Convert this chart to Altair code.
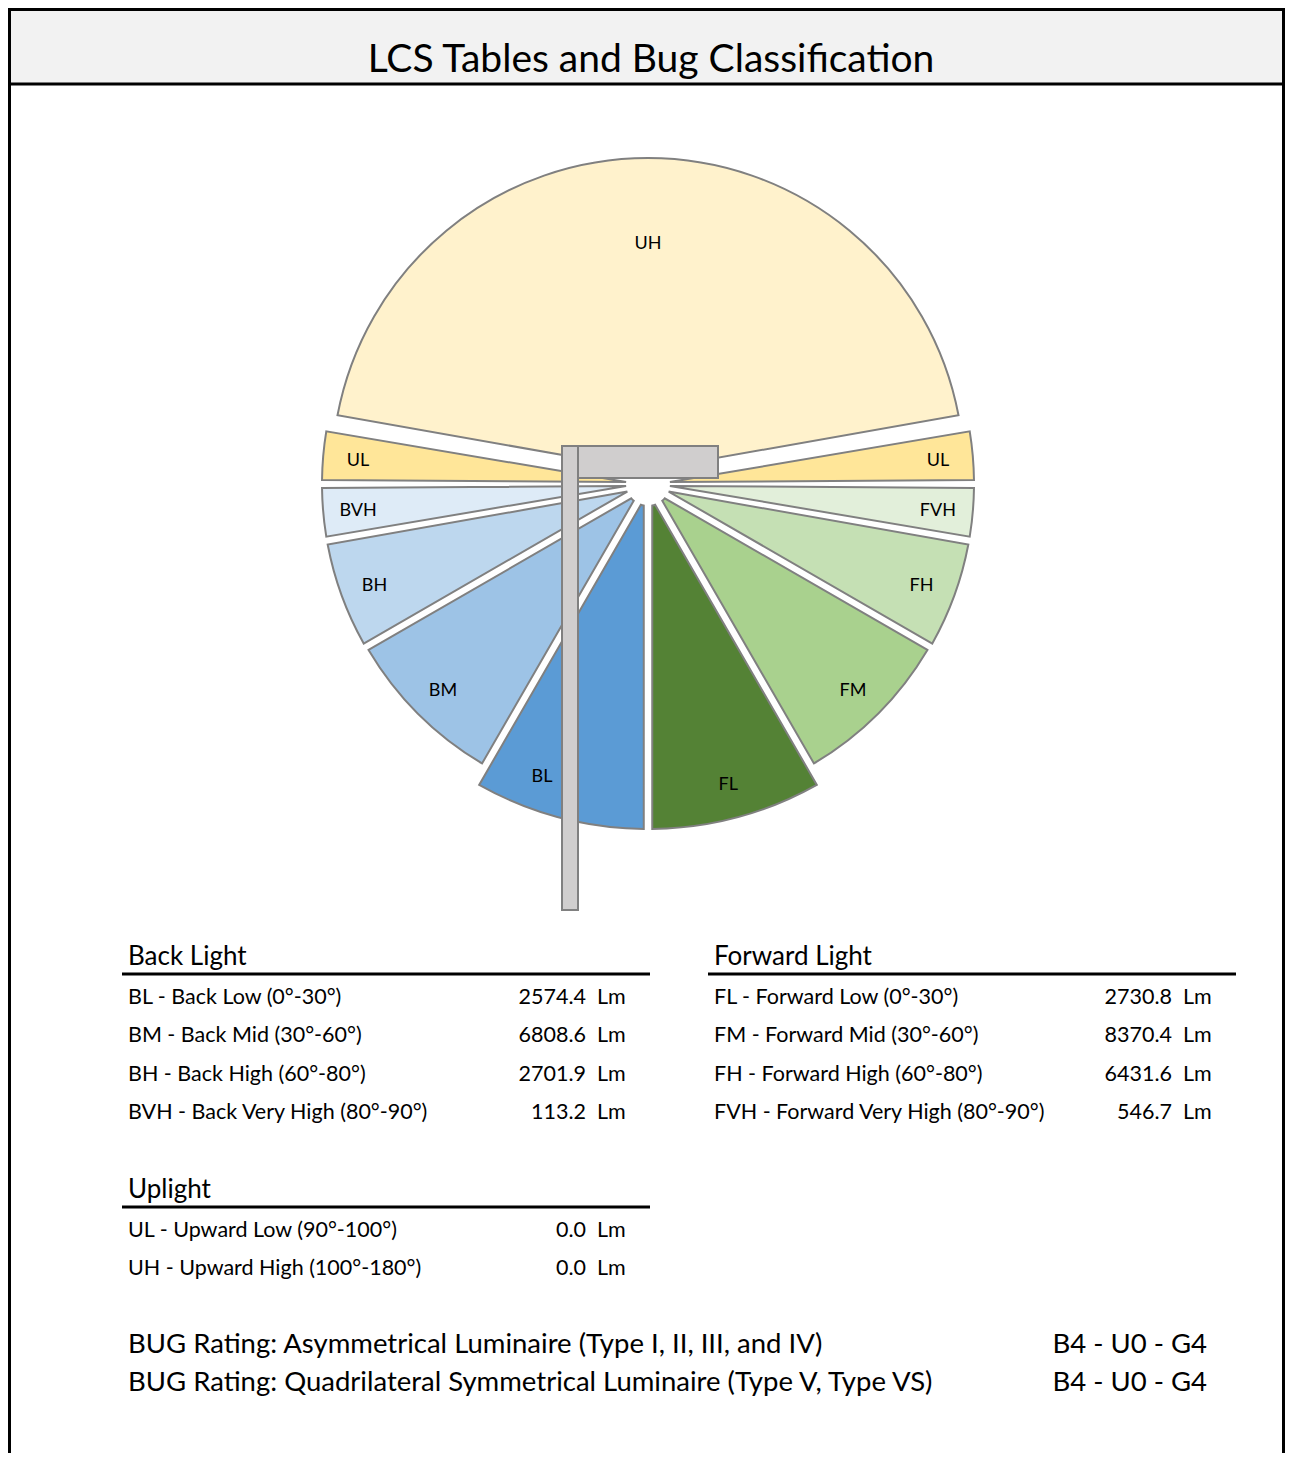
import math
import altair as alt
import pandas as pd

# ---------------- data ----------------
TITLE = "LCS Tables and Bug Classification"

BACK_CODES = ["BL", "BM", "BH", "BVH"]
BACK_NAMES = ["Back Low", "Back Mid", "Back High", "Back Very High"]
BACK_FROM = [0, 30, 60, 80]
BACK_TO = [30, 60, 80, 90]
BACK_LUMENS = [2574.4, 6808.6, 2701.9, 113.2]

FWD_CODES = ["FL", "FM", "FH", "FVH"]
FWD_NAMES = ["Forward Low", "Forward Mid", "Forward High", "Forward Very High"]
FWD_FROM = [0, 30, 60, 80]
FWD_TO = [30, 60, 80, 90]
FWD_LUMENS = [2730.8, 8370.4, 6431.6, 546.7]

UP_CODES = ["UL", "UH"]
UP_NAMES = ["Upward Low", "Upward High"]
UP_FROM = [90, 100]
UP_TO = [100, 180]
UP_LUMENS = [0.0, 0.0]

TABLE_TITLES = ["Back Light", "Forward Light", "Uplight"]
UNIT = "Lm"

BUG_LABELS = [
    "BUG Rating: Asymmetrical Luminaire (Type I, II, III, and IV)",
    "BUG Rating: Quadrilateral Symmetrical Luminaire (Type V, Type VS)",
]
BUG_RATINGS = ["B4 - U0 - G4", "B4 - U0 - G4"]

# ---------------- style / layout ----------------
COLORS = {
    "BL": "#5b9bd5", "BM": "#9dc3e6", "BH": "#bdd7ee", "BVH": "#deebf7",
    "FL": "#548235", "FM": "#a9d18e", "FH": "#c5e0b4", "FVH": "#e2efda",
    "UL": "#ffe699", "UH": "#fff2cc",
}
FONT = "Lato"
EDGE = "#808080"
POLE_FILL = "#d0cece"
TEXT_DY = 2

W, H = 1277, 1445          # drawing size (page offset 8px)
OX, OY = 8, 8
CX, CY = 648, 484          # diagram centre (page px)
GAP = 8
INNER_R = 22
OUTER_R = {"BL": 345, "FL": 345, "BM": 325, "FM": 325, "BH": 326, "FH": 326,
           "BVH": 326, "FVH": 326, "UL": 326, "UH": 316}
EXPLODE = {"UH": 10}
LABEL_INSET = 35
LABEL_R = {"UH": 232}
LABEL_SHIFT = {"BL": 5}     # degrees, keeps the label clear of the pole

XS = alt.Scale(domain=[OX, OX + W], zero=False, nice=False)
YS = alt.Scale(domain=[OY, OY + H], zero=False, nice=False, reverse=True)


def X(f):
    return alt.X(f, type="quantitative", scale=XS, axis=None)


def Y(f):
    return alt.Y(f, type="quantitative", scale=YS, axis=None)


# ---------------- wedges ----------------
wedge_rows = []


def add_wedge(code, t0, t1, label_angle):
    m = (t0 + t1) / 2.0
    e = EXPLODE.get(code, 0)
    cx = CX + e * math.sin(math.radians(m))
    cy = CY - e * math.cos(math.radians(m))
    r = OUTER_R[code]
    lr = LABEL_R.get(code, r - LABEL_INSET)
    wedge_rows.append(dict(
        code=code, cx=cx, cy=cy, r=r,
        t0=math.radians(t0), t1=math.radians(t1),
        lx=cx + lr * math.sin(math.radians(label_angle)),
        ly=cy - lr * math.cos(math.radians(label_angle)),
    ))


for c, a, b in zip(BACK_CODES, BACK_FROM, BACK_TO):
    add_wedge(c, 180 + a, 180 + b, 180 + (a + b) / 2 + LABEL_SHIFT.get(c, 0))
for c, a, b in zip(FWD_CODES, FWD_FROM, FWD_TO):
    add_wedge(c, 180 - b, 180 - a, 180 - (a + b) / 2 - LABEL_SHIFT.get(c, 0))
for c, a, b in zip(UP_CODES, UP_FROM, UP_TO):
    if b >= 180:
        add_wedge(c, 180 + a, 540 - a, 360)
    else:
        add_wedge(c, 180 + a, 180 + b, 180 + (a + b) / 2)
        add_wedge(c, 180 - b, 180 - a, 180 - (a + b) / 2)

wedges = pd.DataFrame(wedge_rows)
codes_order = list(COLORS.keys())

wedge_layer = alt.Chart(wedges).mark_arc(
    padAngle=GAP / 326.0, innerRadius=INNER_R, stroke=EDGE, strokeWidth=2
).encode(
    x=X("cx"), y=Y("cy"),
    theta=alt.Theta("t0:Q", scale=None, stack=None),
    theta2=alt.Theta2("t1:Q"),
    radius=alt.Radius("r:Q", scale=None),
    color=alt.Color("code:N", scale=alt.Scale(domain=codes_order,
                    range=[COLORS[k] for k in codes_order]), legend=None),
)

wedge_labels = alt.Chart(wedges).mark_text(
    font=FONT, fontSize=18, color="black", align="center", baseline="middle",
    dy=TEXT_DY
).encode(x=X("lx"), y=Y("ly"), text="code:N")

# ---------------- pole and luminaire ----------------
fixtures = pd.DataFrame([
    dict(x0=CX - 86, x1=CX - 70, y0=CY - 38, y1=CY + 426),   # pole
    dict(x0=CX - 70, x1=CX + 70, y0=CY - 38, y1=CY - 6),     # luminaire head
])
fixture_layer = alt.Chart(fixtures).mark_rect(
    fill=POLE_FILL, stroke=EDGE, strokeWidth=2
).encode(x=X("x0"), x2="x1", y=Y("y0"), y2="y1")

# ---------------- frame & title ----------------
frame = pd.DataFrame([dict(x0=9.5, x1=OX + W - 1.5, y0=9.5, y1=1500)])
frame_layer = alt.Chart(frame).mark_rect(
    fill="white", stroke="black", strokeWidth=3
).encode(x=X("x0"), x2="x1", y=Y("y0"), y2="y1")

title_bar = pd.DataFrame([dict(x0=9.5, x1=OX + W - 1.5, y0=9.5, y1=84)])
title_bar_layer = alt.Chart(title_bar).mark_rect(
    fill="#f2f2f2", stroke="black", strokeWidth=3
).encode(x=X("x0"), x2="x1", y=Y("y0"), y2="y1")

title_df = pd.DataFrame([dict(x=651, y=59, t=TITLE)])
title_layer = alt.Chart(title_df).mark_text(
    font=FONT, fontSize=39, color="black", align="center", baseline="middle",
    dy=1
).encode(x=X("x"), y=Y("y"), text="t:N")

# ---------------- tables ----------------
ROW_H = 38.3
tables = [
    (TABLE_TITLES[0], 128, 955, BACK_CODES, BACK_NAMES, BACK_FROM, BACK_TO, BACK_LUMENS),
    (TABLE_TITLES[1], 714, 955, FWD_CODES, FWD_NAMES, FWD_FROM, FWD_TO, FWD_LUMENS),
    (TABLE_TITLES[2], 128, 1188, UP_CODES, UP_NAMES, UP_FROM, UP_TO, UP_LUMENS),
]
head_rows, line_rows, body_rows = [], [], []
for title, tx, ty, codes, names, fr, to, lm in tables:
    head_rows.append(dict(x=tx, y=ty, t=title))
    line_rows.append(dict(x0=tx - 6, x1=tx + 522, y=ty + 19))
    for i, (c, n, a, b, v) in enumerate(zip(codes, names, fr, to, lm)):
        y = ty + 41 + i * ROW_H
        body_rows.append(dict(x=tx, xv=tx + 458, xu=tx + 469, y=y,
                              label=f"{c} - {n} ({a}°-{b}°)",
                              val=f"{v:.1f}", unit=UNIT))
heads = pd.DataFrame(head_rows)
lines = pd.DataFrame(line_rows)
body = pd.DataFrame(body_rows)

head_layer = alt.Chart(heads).mark_text(
    font=FONT, fontSize=26, color="black", align="left", baseline="middle",
    dy=TEXT_DY
).encode(x=X("x"), y=Y("y"), text="t:N")
line_layer = alt.Chart(lines).mark_rule(color="black", strokeWidth=3).encode(
    x=X("x0"), x2="x1", y=Y("y"))
label_layer = alt.Chart(body).mark_text(
    font=FONT, fontSize=21.5, color="black", align="left", baseline="middle",
    dy=TEXT_DY
).encode(x=X("x"), y=Y("y"), text="label:N")
val_layer = alt.Chart(body).mark_text(
    font=FONT, fontSize=21.5, color="black", align="right", baseline="middle",
    dy=TEXT_DY
).encode(x=X("xv"), y=Y("y"), text="val:N")
unit_layer = alt.Chart(body).mark_text(
    font=FONT, fontSize=21.5, color="black", align="left", baseline="middle",
    dy=TEXT_DY
).encode(x=X("xu"), y=Y("y"), text="unit:N")

bug = pd.DataFrame([dict(x=128, xr=1207, y=1343 + i * 38, label=l, rating=r)
                    for i, (l, r) in enumerate(zip(BUG_LABELS, BUG_RATINGS))])
bug_label_layer = alt.Chart(bug).mark_text(
    font=FONT, fontSize=27.5, color="black", align="left", baseline="middle",
    dy=TEXT_DY
).encode(x=X("x"), y=Y("y"), text="label:N")
bug_rating_layer = alt.Chart(bug).mark_text(
    font=FONT, fontSize=27.5, color="black", align="right", baseline="middle",
    dy=TEXT_DY
).encode(x=X("xr"), y=Y("y"), text="rating:N")

chart = alt.layer(
    frame_layer, title_bar_layer, title_layer,
    wedge_layer, fixture_layer, wedge_labels,
    head_layer, line_layer, label_layer, val_layer, unit_layer,
    bug_label_layer, bug_rating_layer,
).properties(
    width=W, height=H, padding=0,
    autosize=alt.AutoSizeParams(type="none"),
    background="white",
).configure_view(stroke=None)

chart.save("out.html", embed_options={"renderer": "svg", "actions": False})
